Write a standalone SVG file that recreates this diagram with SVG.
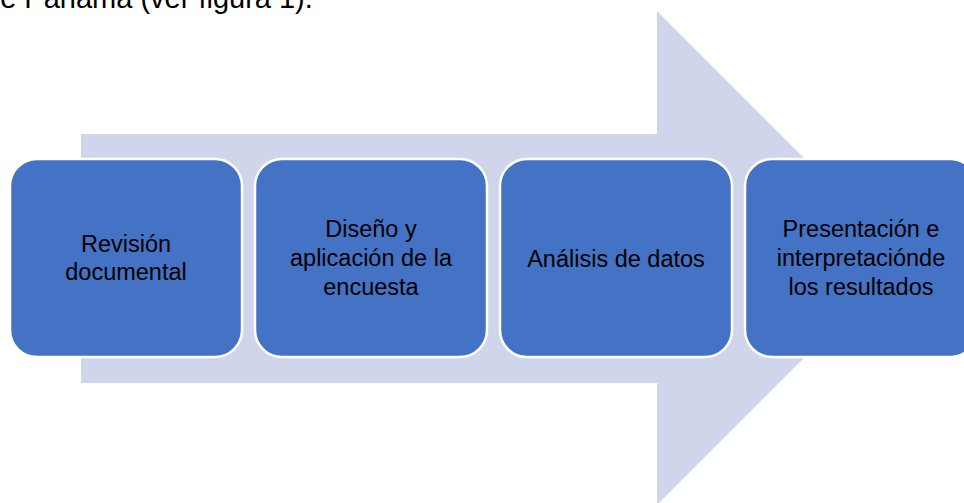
<svg xmlns="http://www.w3.org/2000/svg" width="964" height="503" viewBox="0 0 964 503">
  <style>
    .box { fill: #4472C4; stroke: #FFFFFF; stroke-width: 2.5; }
    .lbl { font-family: "Liberation Sans", Arial, sans-serif; font-size: 23.5px; fill: #000000; text-anchor: middle; }
    .top { font-family: "Liberation Sans", Arial, sans-serif; font-size: 29px; fill: #000000; }
  </style>
  <rect x="0" y="0" width="964" height="503" fill="#FFFFFF"/>
  <text class="top" x="-16" y="7.5">de Panamá (ver figura 1).</text>
  <g id="connectors">
    <polygon id="arrow" points="81,134 657,134 657,11 904,258 657,505 657,383 81,383" fill="#CFD5EA"/>
  </g>
  <g id="node1">
    <rect class="box" x="10" y="159" width="232" height="198" rx="27" ry="27"/>
    <text class="lbl" x="126" y="252">Revisión</text>
    <text class="lbl" x="126" y="280">documental</text>
  </g>
  <g id="node2">
    <rect class="box" x="255" y="159" width="232" height="198" rx="27" ry="27"/>
    <text class="lbl" x="371" y="237">Diseño y</text>
    <text class="lbl" x="371" y="266">aplicación de la</text>
    <text class="lbl" x="371" y="295">encuesta</text>
  </g>
  <g id="node3">
    <rect class="box" x="500" y="159" width="232" height="198" rx="27" ry="27"/>
    <text class="lbl" x="616" y="266.5">Análisis de datos</text>
  </g>
  <g id="node4">
    <rect class="box" x="745" y="159" width="232" height="198" rx="27" ry="27"/>
    <text class="lbl" x="861" y="237">Presentación e</text>
    <text class="lbl" x="861" y="266">interpretaciónde</text>
    <text class="lbl" x="861" y="295">los resultados</text>
  </g>
</svg>
